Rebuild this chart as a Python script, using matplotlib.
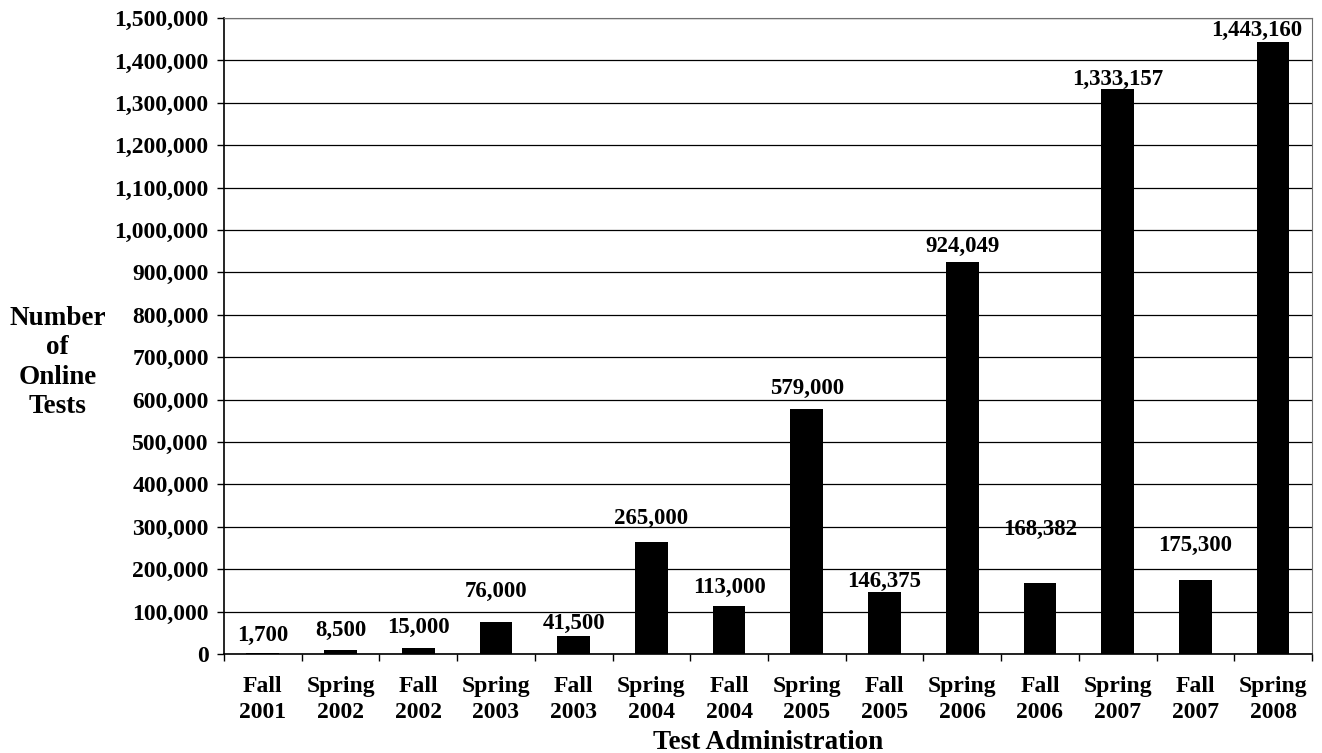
import matplotlib
matplotlib.use("Agg")
import matplotlib.pyplot as plt
from matplotlib.ticker import FuncFormatter, MultipleLocator
import numpy as np

# data
terms = ["Fall\n2001", "Spring\n2002", "Fall\n2002", "Spring\n2003", "Fall\n2003",
         "Spring\n2004", "Fall\n2004", "Spring\n2005", "Fall\n2005", "Spring\n2006",
         "Fall\n2006", "Spring\n2007", "Fall\n2007", "Spring\n2008"]
tests = [1700, 8500, 15000, 76000, 41500, 265000, 113000, 579000,
         146375, 924049, 168382, 1333157, 175300, 1443160]
# how far above each bar the value label sits (points), uneven in the original
label_lift = [5, 7, 7, 14, 2, 9, 6, 7, 0, 4, 31, -1, 17, 1]

plt.rcParams['font.family'] = ['Liberation Serif', 'DejaVu Serif']
plt.rcParams['font.weight'] = 'bold'

fig = plt.figure(figsize=(13.22, 7.53), dpi=100)
ax = fig.add_axes([0.1694, 0.1315, 0.8230, 0.8445])

x = np.arange(len(tests))
ax.bar(x, tests, width=0.42, color='black', zorder=3)

for xi, v, lift in zip(x, tests, label_lift):
    # last label is nudged left in the original so it stays inside the frame
    dx = -12 if xi == len(tests) - 1 else 0
    ax.annotate(f"{v:,}", (xi, v), xytext=(dx, lift), textcoords='offset points',
                ha='center', va='bottom', fontsize=16.5, fontweight='bold', zorder=4)

ax.set_xlim(-0.5, len(tests) - 0.5)
ax.set_ylim(0, 1500000)
ax.yaxis.set_major_locator(MultipleLocator(100000))
ax.yaxis.set_major_formatter(FuncFormatter(lambda v, p: f"{int(v):,}"))
ax.grid(axis='y', color='black', linewidth=0.9, zorder=1)

ax.set_xticks(x)
ax.set_xticklabels(terms, linespacing=1.3)
ax.set_xticks(np.arange(len(tests) + 1) - 0.5, minor=True)
ax.tick_params(axis='x', which='major', length=0, pad=16, labelsize=17)
ax.tick_params(axis='x', which='minor', length=5, width=1, direction='out')
ax.tick_params(axis='y', length=5, width=1, direction='out', labelsize=17, pad=6)

for lab in ax.get_xticklabels() + ax.get_yticklabels():
    lab.set_fontweight('bold')

ax.spines['left'].set_linewidth(1.2)
ax.spines['bottom'].set_linewidth(1.2)
ax.spines['top'].set_color('#707070')
ax.spines['right'].set_color('#707070')

ax.set_xlabel("Test Administration", fontsize=19.5, fontweight='bold', labelpad=5)
fig.text(0.0435, 0.5186, "Number\nof\nOnline\nTests", ha='center', va='center',
         fontsize=19.5, fontweight='bold', linespacing=1.22)

fig.savefig("out.png", dpi=100)
